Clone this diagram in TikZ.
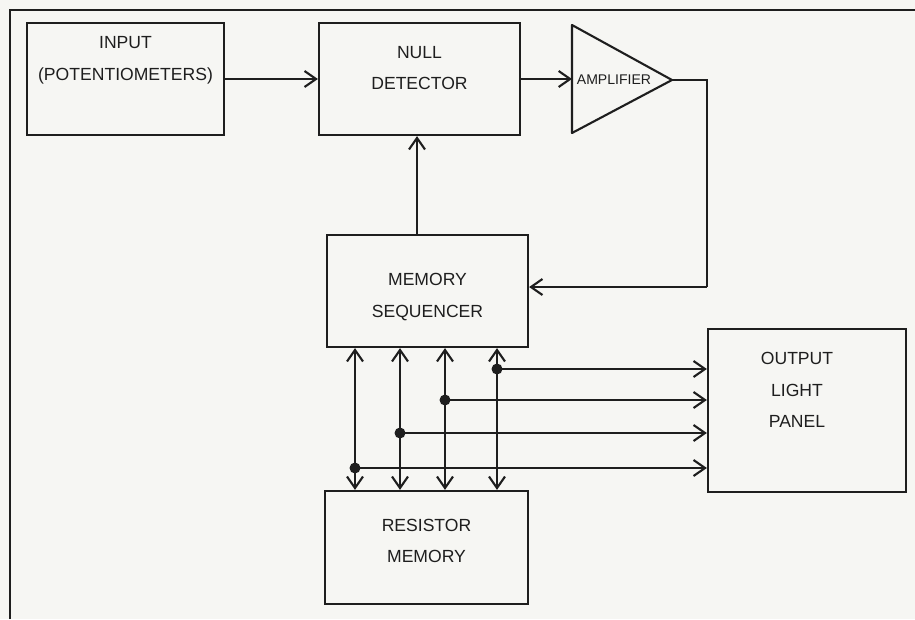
\documentclass[tikz,border=0pt]{standalone}
\usepackage{fontspec}
\setmainfont{Liberation Sans}
\usetikzlibrary{arrows.meta,positioning}
\definecolor{Paper}{HTML}{F6F6F3}
\definecolor{Ink}{HTML}{1E1E1E}

\begin{document}
\begin{tikzpicture}[
      x=0.02cm, y=-0.02cm,
      box/.style={
        draw=Ink,
        line width=1.3pt,
        inner sep=0pt
      },
      lbl/.style={
        align=center,
        text=Ink,
        font=\fontsize{10}{18}\selectfont
      },
      wire/.style={draw=Ink, line width=1.2pt},
      flow/.style={wire, -{Straight Barb[length=2.3mm, width=3.2mm]}},
      both/.style={wire, {Straight Barb[length=2.3mm, width=3.2mm]}-{Straight Barb[length=2.3mm, width=3.2mm]}},
      dot/.style={circle, fill=Ink, inner sep=0pt, minimum size=0.22cm}
    ]
      \useasboundingbox[fill=Paper] (0,0) rectangle (915,619);
      \draw[wire, line width=1.7pt] (10,619) -- (10,10) -- (915,10);

      \node[box, minimum width=3.94cm, minimum height=2.24cm,
        label={[lbl, yshift=0.38cm]center:INPUT\\(POTENTIOMETERS)}] (input) at (125.5,79) {};
      \node[box, minimum width=4.02cm, minimum height=2.24cm,
        label={[lbl, yshift=0.22cm]center:NULL\\DETECTOR}] (null) at (419.5,79) {};
      \node[box, minimum width=4.02cm, minimum height=2.24cm,
        label={[lbl, yshift=-0.12cm]center:MEMORY\\SEQUENCER}] (seq) at (427.5,291) {};
      \node[box, minimum width=4.06cm, minimum height=2.26cm,
        label={[lbl, yshift=0.13cm]center:RESISTOR\\MEMORY}] (res) at (426.5,547.5) {};
      \node[box, minimum width=3.96cm, minimum height=3.26cm,
        label={[lbl, yshift=0.41cm, xshift=-0.2cm]center:OUTPUT\\LIGHT\\PANEL}] (panel) at (807,410.5) {};

      % amplifier
      \coordinate (ampT) at (572,25);
      \coordinate (ampB) at (572,133);
      \coordinate (ampO) at (672,80);
      \draw[wire, line join=round] (ampT) -- (ampO) -- (ampB) -- cycle;
      \node[lbl, font=\fontsize{8}{10}\selectfont] (amp) at (614,80) {AMPLIFIER};
      \coordinate (fbk) at (707,287);

      \draw[flow] (input) -- (null);
      \draw[flow] (null.east) -- (null.east -| ampT);
      \draw[wire, -] (ampO) -| (fbk);
      \draw[flow] (fbk) -- (fbk -| seq.east);
      \draw[flow] ([xshift=-0.21cm]seq.north) -- ([xshift=-0.21cm]seq.north |- null.south);

      % bus to memory and panel
      \foreach \x/\y/\i in {355/468/1, 400/433/2, 445/400/3, 497/369/4} {
        \draw[both] (seq.south -| \x,0) -- (res.north -| \x,0);
        \node[dot] (dot\i) at (\x,\y) {};
        \draw[flow] (dot\i.center) -- (dot\i -| panel.west);
      }
    \end{tikzpicture}
\end{document}
